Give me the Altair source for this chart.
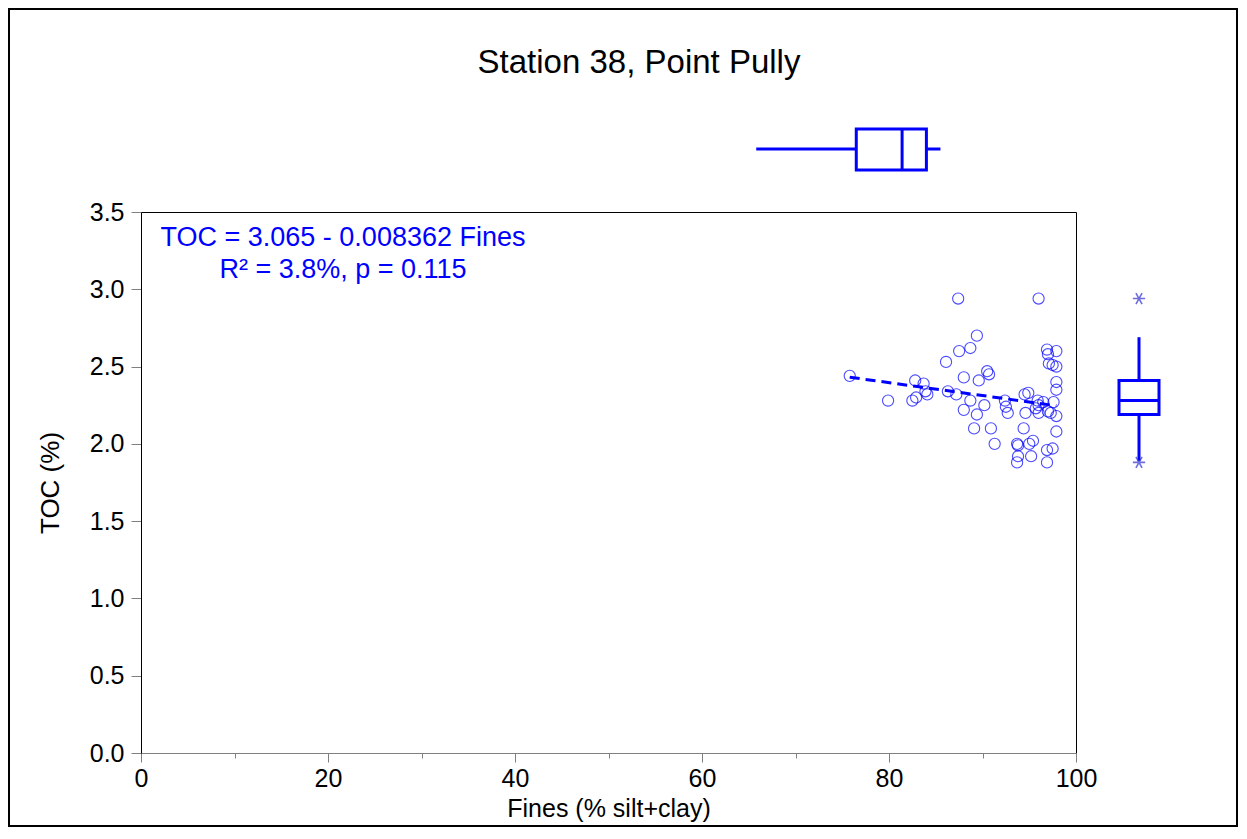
import altair as alt
import pandas as pd

# ---- scatter data (Fines %, TOC %) ----
fines = [75.8, 79.9, 82.8, 83.7, 82.5, 82.9, 84.1, 83.9, 86.3, 86.1,
         87.4, 87.5, 88.7, 89.4, 88.0, 89.6, 90.5, 90.7, 87.2, 88.7,
         90.2, 88.0, 89.4, 89.1, 90.9, 91.3, 92.4, 92.5, 92.7, 94.5,
         94.9, 94.6, 94.4, 93.7, 93.8, 95.0, 95.4, 93.8, 93.7, 95.2,
         95.9, 96.0, 96.0, 96.0, 96.9, 97.0, 97.9, 97.1, 97.5, 97.9,
         97.9, 97.9, 97.6, 97.0, 97.3, 97.9, 97.9, 96.9, 97.5, 96.9,
         96.5, 95.7]
toc = [2.44, 2.28, 2.41, 2.39, 2.28, 2.30, 2.32, 2.34, 2.34, 2.53,
       2.94, 2.60, 2.62, 2.70, 2.43, 2.41, 2.47, 2.45, 2.32, 2.28,
       2.25, 2.22, 2.19, 2.10, 2.10, 2.00, 2.28, 2.24, 2.20, 2.32,
       2.33, 2.20, 2.10, 2.00, 1.99, 2.00, 2.02, 1.92, 1.88, 1.92,
       2.28, 2.94, 2.25, 2.20, 2.61, 2.58, 2.60, 2.52, 2.51, 2.50,
       2.40, 2.35, 2.27, 2.21, 2.20, 2.18, 2.08, 1.96, 1.97, 1.88,
       2.27, 2.23]

# ---- regression (from the printed equation) ----
intercept = 3.065
slope = -0.008362

# ---- marginal box plot stats ----
xbox_stats = [65.8, 76.5, 81.4, 84.0, 85.5]   # lo whisker, q1, median, q3, hi whisker
ybox_stats = [1.89, 2.19, 2.28, 2.41, 2.69]
y_outliers = [2.94, 1.88]

title_text = "Station 38, Point Pully"
eq_line1 = "TOC = 3.065 - 0.008362 Fines"
eq_line2 = "R\u00b2 = 3.8%, p = 0.115"

BLUE = "#0000ff"
FONT = "Liberation Sans"
W, H = 935, 541

pts = pd.DataFrame({"Fines": fines, "TOC": toc})
fx = [min(fines), max(fines)]
fit = pd.DataFrame({"Fines": fx, "TOC": [intercept + slope * v for v in fx]})

xs = alt.Scale(domain=[0, 100], nice=False, zero=False)
ys = alt.Scale(domain=[0, 3.5], nice=False, zero=False)

x_axis = alt.Axis(
    values=list(range(0, 101, 10)),
    labelExpr="datum.value % 20 === 0 ? datum.label : ''",
    tickSize={"condition": {"test": "datum.value % 20 === 0", "value": 9}, "value": 5},
    tickColor="#808080", domainColor="#808080", labelFont=FONT, labelFontSize=25,
    labelColor="black", labelPadding=4, labelFlush=False, grid=False,
    title="Fines (% silt+clay)", titleFont=FONT, titleFontSize=25,
    titleFontWeight="normal", titleColor="black", titlePadding=5,
)
y_axis = alt.Axis(
    values=[i * 0.25 for i in range(15)],
    labelExpr="datum.value % 0.5 === 0 ? format(datum.value, '.1f') : ''",
    tickSize={"condition": {"test": "datum.value % 0.5 === 0", "value": 10}, "value": 5},
    tickColor="#808080", domainColor="black", labelFont=FONT, labelFontSize=25,
    labelColor="black", labelPadding=7, labelFlush=False, grid=False,
    title="TOC (%)", titleFont=FONT, titleFontSize=26,
    titleFontWeight="normal", titleColor="black", titlePadding=26,
)

points = alt.Chart(pts).mark_point(
    shape="circle", filled=False, size=125, strokeWidth=1.1, color=BLUE
).encode(
    x=alt.X("Fines:Q", scale=xs, axis=x_axis),
    y=alt.Y("TOC:Q", scale=ys, axis=y_axis),
)

fit_line = alt.Chart(fit).mark_line(
    color=BLUE, strokeWidth=3, strokeDash=[10, 6]
).encode(x="Fines:Q", y="TOC:Q")

xb = pd.DataFrame([{"lo": xbox_stats[0], "q1": xbox_stats[1], "med": xbox_stats[2],
                    "q3": xbox_stats[3], "hi": xbox_stats[4]}])
yb = pd.DataFrame([{"lo": ybox_stats[0], "q1": ybox_stats[1], "med": ybox_stats[2],
                    "q3": ybox_stats[3], "hi": ybox_stats[4]}])
yo = pd.DataFrame({"v": y_outliers})

XB_TOP, XB_BOT, XB_MID = -83, -42, -63
YB_L, YB_R, YB_MID = 978, 1018, 998

xb_w1 = alt.Chart(xb).mark_rule(color=BLUE, strokeWidth=3).encode(
    x="lo:Q", x2="q1:Q", y=alt.value(XB_MID))
xb_w2 = alt.Chart(xb).mark_rule(color=BLUE, strokeWidth=3).encode(
    x="q3:Q", x2="hi:Q", y=alt.value(XB_MID))
xb_box = alt.Chart(xb).mark_rect(fill="white", stroke=BLUE, strokeWidth=3).encode(
    x="q1:Q", x2="q3:Q", y=alt.value(XB_TOP), y2=alt.value(XB_BOT))
xb_med = alt.Chart(xb).mark_rule(color=BLUE, strokeWidth=3).encode(
    x="med:Q", y=alt.value(XB_TOP), y2=alt.value(XB_BOT))

yb_w1 = alt.Chart(yb).mark_rule(color=BLUE, strokeWidth=3).encode(
    y="lo:Q", y2="q1:Q", x=alt.value(YB_MID))
yb_w2 = alt.Chart(yb).mark_rule(color=BLUE, strokeWidth=3).encode(
    y="q3:Q", y2="hi:Q", x=alt.value(YB_MID))
yb_box = alt.Chart(yb).mark_rect(fill="white", stroke=BLUE, strokeWidth=3).encode(
    y="q1:Q", y2="q3:Q", x=alt.value(YB_L), x2=alt.value(YB_R))
yb_med = alt.Chart(yb).mark_rule(color=BLUE, strokeWidth=3).encode(
    y="med:Q", x=alt.value(YB_L), x2=alt.value(YB_R))
star = "M-1,0L1,0M-0.5,-0.9L0.5,0.9M-0.5,0.9L0.5,-0.9"
yb_out = alt.Chart(yo).mark_point(
    shape=star, filled=False, size=150, strokeWidth=1.6, color="#3030d0"
).encode(y="v:Q", x=alt.value(YB_MID))

title_mark = alt.Chart(pd.DataFrame({"t": [title_text]})).mark_text(
    font=FONT, fontSize=33, color="black", align="center", baseline="middle"
).encode(text="t:N", x=alt.value(498), y=alt.value(-149))
eq1 = alt.Chart(pd.DataFrame({"t": [eq_line1]})).mark_text(
    font=FONT, fontSize=27, color=BLUE, align="center", baseline="middle"
).encode(text="t:N", x=alt.value(202), y=alt.value(26))
eq2 = alt.Chart(pd.DataFrame({"t": [eq_line2]})).mark_text(
    font=FONT, fontSize=27, color=BLUE, align="center", baseline="middle"
).encode(text="t:N", x=alt.value(202), y=alt.value(58))

border = alt.Chart(pd.DataFrame({"b": [0]})).mark_rect(
    fill=None, stroke="black", strokeWidth=2
).encode(x=alt.value(-132), x2=alt.value(W + 161), y=alt.value(-203), y2=alt.value(H + 73))

chart = alt.layer(
    border, points, fit_line,
    xb_w1, xb_w2, xb_box, xb_med,
    yb_w1, yb_w2, yb_box, yb_med, yb_out,
    title_mark, eq1, eq2,
).properties(
    width=W, height=H,
    autosize=alt.AutoSizeParams(type="none"),
    padding={"left": 133, "top": 204, "right": 162, "bottom": 75},
    background="white",
).configure_view(stroke="black", strokeWidth=1)

chart.save("out.html", embed_options={"renderer": "svg", "actions": False})
